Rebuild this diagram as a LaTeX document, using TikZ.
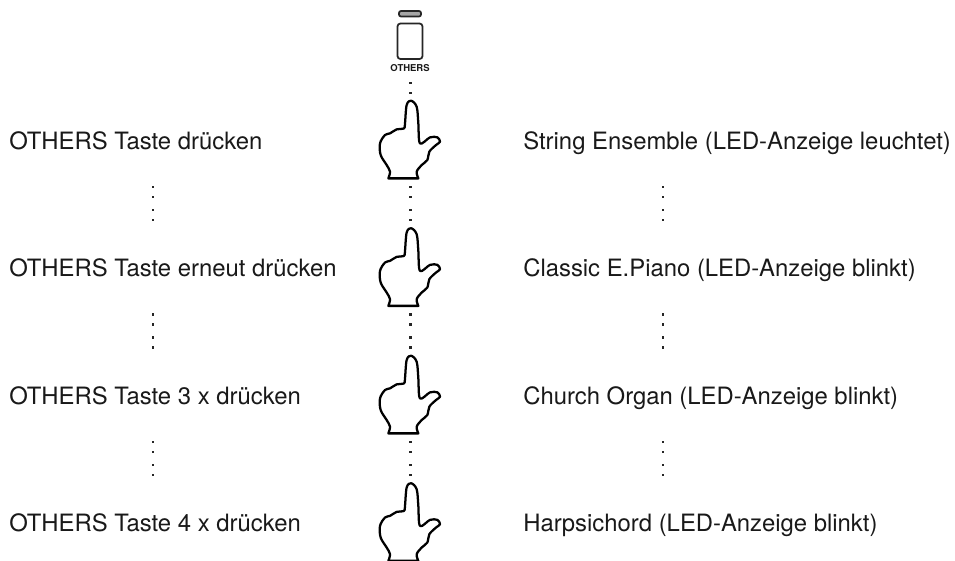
\documentclass[tikz,border=0pt]{standalone}
\usepackage{fontspec}
\setmainfont{TeX Gyre Heros}
\tikzset{
  x=0.75pt,y=-0.75pt,
  lbl/.style={anchor=base west,inner sep=0pt,font=\fontsize{17.9}{21}\selectfont,text=black!90},
  handline/.style={line width=1.7pt,black,line join=round,fill=white},
  keyline/.style={line width=1.3pt,draw=black!85,rounded corners=2.2pt},
  tickdot/.style={rectangle,fill=black!85,inner sep=0pt,minimum size=1.9pt}
}
\newcommand{\handat}[2]{%
  \begin{scope}[shift={(#1,#2)},x=0.25pt,y=-0.25pt]
    \draw[handline] plot[smooth,tension=0.55] coordinates {(22,233) (17,213) (32,193) (49,178) (55,153) (75,133) (87,123) (79,110) (57,110) (27,128) (22,68) (17,18) (0,0) (-13,13) (-18,68) (-21,83) (-43,86) (-63,98) (-78,103) (-93,128) (-91,163) (-73,193) (-63,213) (-68,233)} -- cycle;
  \end{scope}}
\newcommand{\dotpair}[3]{%
  \node[tickdot] (#3a) at (#1,#2) {};
  \node[tickdot] (#3b) at (#1,#2+10) {};}
\begin{document}
\begin{tikzpicture}
\clip (0,0) rectangle (955,560);
\fill[white] (0,0) rectangle (955,560);
% key
\draw[keyline,fill=black!35,rounded corners=1.5pt] (399,11) rectangle (421,16.5);
\draw[keyline] (397.5,23.5) rectangle (422.5,59);
\node[inner sep=0pt,font=\bfseries\fontsize{7.1}{8}\selectfont,text=black!90] (key) at (410,68) {OTHERS};
% hands
\handat{411}{100.7}
\handat{411}{228.2}
\handat{411}{355.7}
\handat{411}{483.2}
% centre dots
\dotpair{410.3}{83}{ca}
\dotpair{410.3}{187}{cb}
\dotpair{410.3}{210}{cc}
\dotpair{410.3}{314.5}{cd}
\dotpair{410.3}{337.5}{ce}
\dotpair{410.3}{442}{cf}
\dotpair{410.3}{465}{cg}
% left dots
\dotpair{153}{187}{la}
\dotpair{153}{210}{lb}
\dotpair{153}{314.5}{lc}
\dotpair{153}{337.5}{ld}
\dotpair{153}{442}{le}
\dotpair{153}{465}{lf}
% right dots
\dotpair{663}{187}{ra}
\dotpair{663}{210}{rb}
\dotpair{663}{314.5}{rc}
\dotpair{663}{337.5}{rd}
\dotpair{663}{442}{re}
\dotpair{663}{465}{rf}
% text
\node[lbl] (l1) at (9,149) {OTHERS Taste drücken};
\node[lbl] (l2) at (9,276.5) {OTHERS Taste erneut drücken};
\node[lbl] (l3) at (9,404) {OTHERS Taste 3 x drücken};
\node[lbl] (l4) at (9,531.5) {OTHERS Taste 4 x drücken};
\node[lbl] (r1) at (523,149) {String Ensemble (LED-Anzeige leuchtet)};
\node[lbl] (r2) at (523,276.5) {Classic E.Piano (LED-Anzeige blinkt)};
\node[lbl] (r3) at (523,404) {Church Organ (LED-Anzeige blinkt)};
\node[lbl] (r4) at (523,531.5) {Harpsichord (LED-Anzeige blinkt)};
\end{tikzpicture}
\end{document}
